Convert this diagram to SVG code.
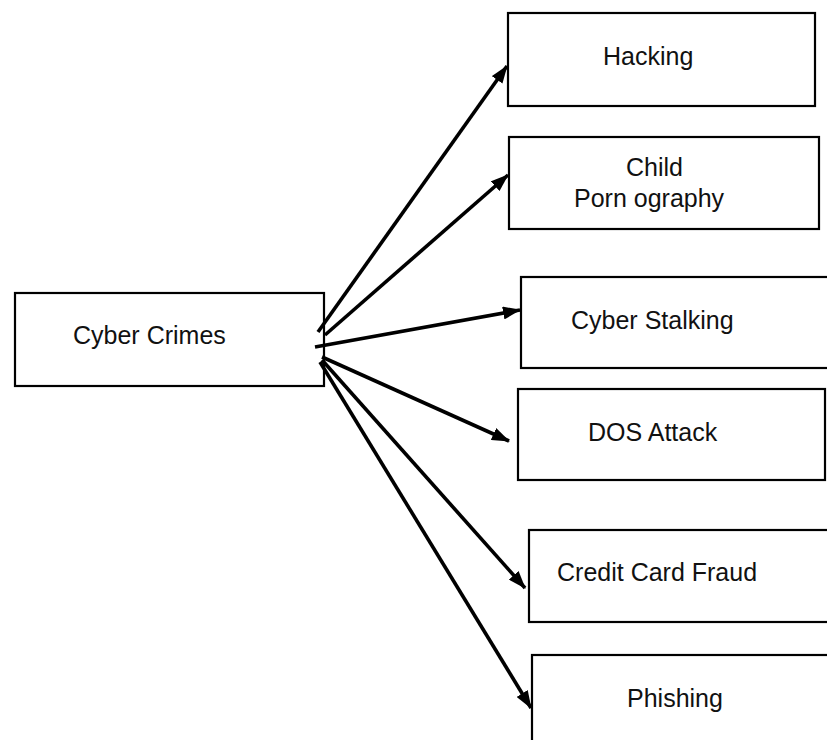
<svg xmlns="http://www.w3.org/2000/svg" width="827" height="740" viewBox="0 0 827 740">
  <defs>
    <style>
      .box { fill: #ffffff; stroke: #000000; stroke-width: 2.2; }
      .label { font-family: "Liberation Sans", Arial, sans-serif; font-size: 25px; fill: #111111; }
      .link { stroke: #000000; stroke-width: 3.6; fill: none; marker-end: url(#head); }
    </style>
    <marker id="head" viewBox="0 0 18 13" markerUnits="userSpaceOnUse" markerWidth="18" markerHeight="13" refX="17" refY="6.5" orient="auto">
      <path d="M0,0 L18,6.5 L0,13 z" fill="#000000"/>
    </marker>
  </defs>
  <rect width="827" height="740" fill="#ffffff"/>

  <!-- central node -->
  <g id="cyber-crimes">
    <rect class="box" x="15" y="293" width="309" height="93"/>
    <text class="label" x="73" y="344">Cyber Crimes</text>
  </g>

  <!-- category nodes -->
  <g id="hacking">
    <rect class="box" x="508" y="13" width="307" height="93"/>
    <text class="label" x="603" y="65">Hacking</text>
  </g>
  <g id="child-pornography">
    <rect class="box" x="509" y="137" width="310" height="92"/>
    <text class="label" x="626" y="176">Child</text>
    <text class="label" x="574" y="207">Porn ography</text>
  </g>
  <g id="cyber-stalking">
    <rect class="box" x="521" y="277" width="320" height="91"/>
    <text class="label" x="571" y="329">Cyber Stalking</text>
  </g>
  <g id="dos-attack">
    <rect class="box" x="518" y="389" width="307" height="91"/>
    <text class="label" x="588" y="441">DOS Attack</text>
  </g>
  <g id="credit-card-fraud">
    <rect class="box" x="529" y="530" width="310" height="92"/>
    <text class="label" x="557" y="581">Credit Card Fraud</text>
  </g>
  <g id="phishing">
    <rect class="box" x="532" y="655" width="310" height="100"/>
    <text class="label" x="627" y="707">Phishing</text>
  </g>

  <!-- connectors -->
  <g id="connectors">
    <line class="link" x1="318" y1="332" x2="507" y2="66"/>
    <line class="link" x1="325" y1="335" x2="508" y2="175"/>
    <line class="link" x1="315" y1="347" x2="520" y2="310"/>
    <line class="link" x1="322" y1="357" x2="509" y2="441"/>
    <line class="link" x1="322" y1="360" x2="525" y2="588"/>
    <line class="link" x1="320" y1="362" x2="531" y2="708"/>
  </g>
</svg>
